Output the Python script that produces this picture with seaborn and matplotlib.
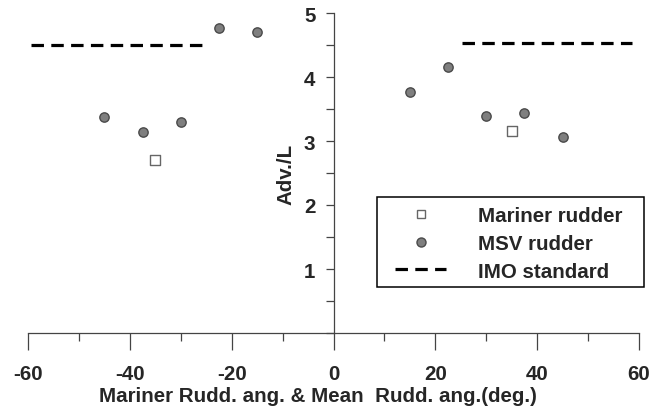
import matplotlib
matplotlib.use("Agg")
import matplotlib.pyplot as plt
import seaborn as sns
import pandas as pd
from matplotlib.ticker import MultipleLocator
from matplotlib.lines import Line2D
from matplotlib.patches import Rectangle

# ---- data ----
mariner_x = [-35, 35]
mariner_y = [2.7, 3.15]
msv_x = [-45, -37.5, -30, -22.5, -15, 15, 22.5, 30, 37.5, 45]
msv_y = [3.37, 3.14, 3.30, 4.77, 4.70, 3.76, 4.15, 3.39, 3.43, 3.07]
imo_left_x = [-59.5, -25.7]
imo_left_y = [4.5, 4.5]
imo_right_x = [25.3, 58.7]
imo_right_y = [4.53, 4.53]
xticks = [-60, -40, -20, 0, 20, 40, 60]
yticks = [1, 2, 3, 4, 5]

sns.set_style("ticks")
plt.rcParams['font.family'] = ['Liberation Sans', 'DejaVu Sans']
plt.rcParams['font.weight'] = 'bold'
plt.rcParams['axes.unicode_minus'] = False

FS = 14.8
W, H = 666, 414
fig = plt.figure(figsize=(W/100, H/100), dpi=100)
ax = fig.add_axes([28/W, 80/H, (639-28)/W, (334-14)/H])

df_m = pd.DataFrame({'x': mariner_x, 'y': mariner_y})
df_s = pd.DataFrame({'x': msv_x, 'y': msv_y})
sns.scatterplot(data=df_m, x='x', y='y', ax=ax, marker='s', s=50,
                facecolor='white', edgecolor='#666666', linewidth=1.0, zorder=3)
sns.scatterplot(data=df_s, x='x', y='y', ax=ax, marker='o', s=45,
                color='#7f7f7f', edgecolor='#4a4a4a', linewidth=1.0, zorder=3)

dash = (0, (3.9, 2.3))
for xs, ys in [(imo_left_x, imo_left_y), (imo_right_x, imo_right_y)]:
    sns.lineplot(x=xs, y=ys, ax=ax, color='black', lw=2.3, linestyle=dash,
                 estimator=None, sort=False)

ax.set_xlim(-60, 60)
ax.set_ylim(0, 5)

for s in ['top', 'right']:
    ax.spines[s].set_visible(False)
ax.spines['left'].set_position(('data', 0))
ax.spines['bottom'].set_position(('data', 0))
for s in ['left', 'bottom']:
    ax.spines[s].set_color('#444444')
    ax.spines[s].set_linewidth(0.9)

ax.set_xticks(xticks)
ax.set_yticks(yticks)
ax.xaxis.set_minor_locator(MultipleLocator(10))
ax.yaxis.set_minor_locator(MultipleLocator(0.5))
ax.tick_params(axis='both', which='both', bottom=True, left=True, top=False, right=False)
ax.tick_params(axis='x', which='major', direction='out', length=12, width=0.9,
               color='#444444', pad=10, labelsize=FS)
ax.tick_params(axis='x', which='minor', direction='out', length=6, width=0.9,
               color='#444444')
ax.tick_params(axis='y', which='both', direction='out', length=6, width=0.9,
               color='#444444', pad=7, labelsize=FS)
for lab in ax.get_xticklabels() + ax.get_yticklabels():
    lab.set_fontweight('bold')

ax.set_xlabel('Mariner Rudd. ang. & Mean  Rudd. ang.(deg.)', fontsize=FS,
              fontweight='bold')
ax.xaxis.set_label_coords(0.474, -0.165)
ax.set_ylabel('Adv./L', fontsize=FS, fontweight='bold')
ax.yaxis.set_label_coords(0.438, 0.5)

handles = [
    Line2D([], [], marker='s', linestyle='none', markersize=5.5,
           markerfacecolor='white', markeredgecolor='#666666', markeredgewidth=1.0),
    Line2D([], [], marker='o', linestyle='none', markersize=6.5,
           markerfacecolor='#7f7f7f', markeredgecolor='#4a4a4a', markeredgewidth=1.0),
    Line2D([], [], color='black', lw=2.3, linestyle=dash),
]
labels = ['Mariner rudder', 'MSV rudder', 'IMO standard']
leg = ax.legend(handles, labels, loc='upper left',
                bbox_to_anchor=(395/W, 1 - 207/H), bbox_transform=fig.transFigure,
                frameon=False, fontsize=FS, handlelength=2.5,
                handletextpad=1.55, borderpad=0, labelspacing=0.43,
                borderaxespad=0)
for t in leg.get_texts():
    t.set_fontweight('bold')

fig.patches.append(Rectangle((377/W, 1 - 288/H), (644-377)/W, (288-198)/H,
                             transform=fig.transFigure, fill=False,
                             edgecolor='black', linewidth=1.1, zorder=5))

fig.savefig('out.png', dpi=100)
